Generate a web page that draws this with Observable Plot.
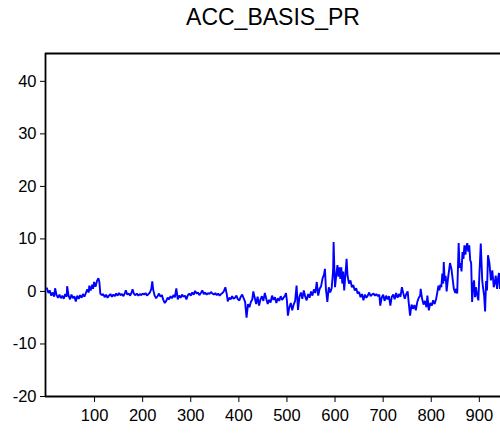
<!DOCTYPE html>
<html>
<head>
<meta charset="utf-8">
<script src="https://cdn.jsdelivr.net/npm/d3@7"></script>
<script src="https://cdn.jsdelivr.net/npm/@observablehq/plot@0.6"></script>
<style>
  html, body { margin: 0; padding: 0; background: #fff; }
  #wrap { position: relative; width: 500px; height: 434px; overflow: hidden; font-family: "Liberation Sans", Arial, sans-serif; }
  #title { position: absolute; left: 46px; width: 454px; top: 6px; text-align: center; font-size: 23px; line-height: 1; color: #000; }
</style>
</head>
<body>
<div id="wrap">
  <div id="title">ACC_BASIS_PR</div>
  <div id="chart"></div>
</div>
<script>
const titleText = "ACC_BASIS_PR";
const obs = [
  1,4,7,10,13,16,18,21,24,27,30,33,36,39,42,43,46,49,52,55,58,61,64,67,70,73,76,79,82,85,88,89,92,95,97,99,102,105,108,110,112,115,118,121,124,127,130,133,136,139,142,145,148,151,154,157,160,163,165,168,171,174,177,179,182,185,188,191,194,197,
  200,203,206,209,212,215,218,220,222,225,228,231,234,237,240,243,246,249,252,255,258,261,264,267,270,273,276,279,282,285,288,291,294,297,300,303,306,309,312,315,318,321,324,327,330,333,336,339,342,345,348,351,354,357,360,363,366,369,372,375,377,380,383,386,389,392,395,398,
  401,404,407,410,413,416,419,422,425,428,430,433,436,439,442,445,448,451,454,457,460,463,466,469,472,475,478,481,484,487,490,493,496,498,500,502,505,508,511,514,517,520,523,526,529,532,535,538,541,544,547,550,553,556,559,562,565,568,571,574,577,
  579,581,584,587,590,593,596,597,599,600,603,605,607,609,611,613,615,617,619,621,624,626,629,632,635,638,641,644,647,650,653,656,659,662,665,668,671,674,677,680,683,686,689,692,694,697,700,703,706,709,712,715,718,721,724,727,730,733,736,739,742,745,748,751,753,756,759,
  762,765,768,771,774,777,778,781,784,787,790,792,795,798,801,804,807,810,812,815,817,819,821,823,825,826,828,830,832,835,839,842,845,847,850,852,854,857,859,861,863,865,867,869,871,873,875,877,879,881,883,885,887,889,891,893,895,898,900,903,906,908,910,912,914,916,918,921,924,927,930,932,934,937,939,941,943,945
];
const values = [
  0.6,-0.3,0.2,-0.8,-0.2,-1.0,0.6,-0.7,-1.2,-0.6,-1.3,-0.8,-1.4,-0.5,-1.0,1.0,-0.8,-1.5,-0.6,-1.3,-0.9,-1.9,-0.8,-1.4,-0.7,-1.2,-0.5,-1.0,-0.3,0.4,-0.2,1.1,0.2,1.3,0.5,1.8,0.9,2.0,2.5,1.8,-0.4,-0.7,-0.5,-1.1,-0.6,-1.2,-0.8,-0.5,-1.0,-0.6,-0.9,-0.4,-0.8,-0.3,-0.7,-0.5,-0.9,-0.3,0.2,-0.6,-0.4,-0.8,-0.2,0.4,-0.5,-0.7,-0.4,-0.8,-0.5,-0.7,
  -0.4,-0.6,-0.3,-0.8,-0.5,-0.2,0.5,1.9,0.3,-0.8,-1.3,-0.9,-0.4,-1.0,-0.7,-1.6,-2.2,-1.8,-1.2,-1.5,-0.9,-1.3,-0.7,-1.1,0.6,-1.5,-0.8,-1.2,-0.6,-1.0,-0.8,-1.5,-0.7,-0.4,-0.8,-0.2,-0.6,0.1,-0.4,-0.2,-0.7,-0.3,0.2,-0.5,-0.2,-0.6,-0.3,-0.5,-0.1,-0.4,-0.6,-0.3,-0.7,-0.4,-0.8,-0.5,-0.3,0.1,0.8,-0.6,-1.9,-1.2,-1.5,-0.9,-1.4,-1.2,-0.8,-1.5,
  -1.7,-1.0,-0.6,-1.3,-2.0,-5.0,-2.4,-3.0,-2.0,-1.5,0.0,-1.2,-2.4,-1.0,-2.7,-1.5,-0.9,-1.8,-0.3,-1.4,-2.4,-1.6,-2.1,-0.8,-1.6,-1.1,-2.2,-1.3,-1.8,-0.9,-1.6,-1.2,-0.8,-0.3,-1.8,-4.6,-3.0,-2.2,-3.6,-2.5,-1.8,1.1,-3.5,-1.0,-0.2,-1.4,0.2,-1.0,-1.7,-0.5,-1.2,0.0,-0.8,0.4,-0.3,1.8,-0.8,0.5,1.0,2.5,3.2,
  4.3,0.5,-2.0,0.8,-0.2,0.6,4.0,9.4,3.0,0.8,3.5,5.0,2.8,4.6,2.4,4.6,1.5,3.8,0.2,2.5,6.2,3.0,1.5,2.1,0.8,1.2,0.2,0.6,-0.4,-0.1,-1.1,-0.5,-1.7,-0.6,-1.2,-0.8,-0.2,-0.9,-0.6,-0.4,-0.8,-0.5,-0.9,-0.6,-2.7,-1.2,-0.6,-1.8,-0.8,-1.5,-0.9,-2.7,-1.0,-0.6,-1.5,-0.3,-1.2,-0.5,-1.0,0.8,-0.4,-1.4,-0.5,0.0,-2.0,-4.6,-2.5,
  -3.3,-2.6,-3.6,-2.0,-1.2,-0.8,0.5,-1.4,-2.5,-1.8,-3.0,-0.8,-3.6,-2.2,-2.7,-1.7,-2.4,-1.5,-0.5,1.1,0.2,1.3,0.8,3.4,1.5,5.6,2.0,3.0,0.0,2.6,5.4,4.3,2.0,0.5,-0.3,0.5,-0.4,9.2,4.5,5.4,3.8,7.5,6.2,8.8,7.0,8.5,9.2,7.6,8.8,6.0,5.4,-2.0,1.0,2.1,-1.1,0.8,-0.5,-1.7,3.0,9.1,2.1,0.5,-0.8,-3.8,2.0,0.2,6.9,5.4,2.1,4.0,0.8,1.5,3.0,0.5,2.6,3.5,0.5,1.5
];
const yTicks = [-20, -10, 0, 10, 20, 30, 40];
const xTicks = [100, 200, 300, 400, 500, 600, 700, 800, 900];
const xDomain = [-2, 944];
const yDomain = [-20, 45.3];

const data = obs.map((o, i) => ({obs: o, value: values[i]}));
document.getElementById("title").textContent = titleText;

const chart = Plot.plot({
  width: 500,
  height: 434,
  marginLeft: 45,
  marginRight: 0,
  marginTop: 53,
  marginBottom: 38,
  style: {fontFamily: "'Liberation Sans', Arial, sans-serif", fontSize: "16.5px", color: "#000", background: "transparent", overflow: "visible"},
  x: {domain: xDomain, ticks: xTicks, tickSize: 6, tickPadding: 7, label: null, tickFormat: d => String(d)},
  y: {domain: yDomain, ticks: yTicks, tickSize: 5, tickPadding: 4, label: null, tickFormat: d => String(d)},
  marks: [
    Plot.ruleY([yDomain[0]], {x1: xDomain[0], x2: xDomain[1], stroke: "#000", strokeWidth: 1.8}),
    Plot.ruleY([yDomain[1]], {x1: xDomain[0], x2: xDomain[1], stroke: "#000", strokeWidth: 1.8}),
    Plot.ruleX([xDomain[0]], {y1: yDomain[0], y2: yDomain[1], stroke: "#000", strokeWidth: 1.8}),
    Plot.line(data, {x: "obs", y: "value", stroke: "#0000ff", strokeWidth: 1.9, strokeLinejoin: "miter"})
  ]
});
document.getElementById("chart").appendChild(chart);
</script>
</body>
</html>
